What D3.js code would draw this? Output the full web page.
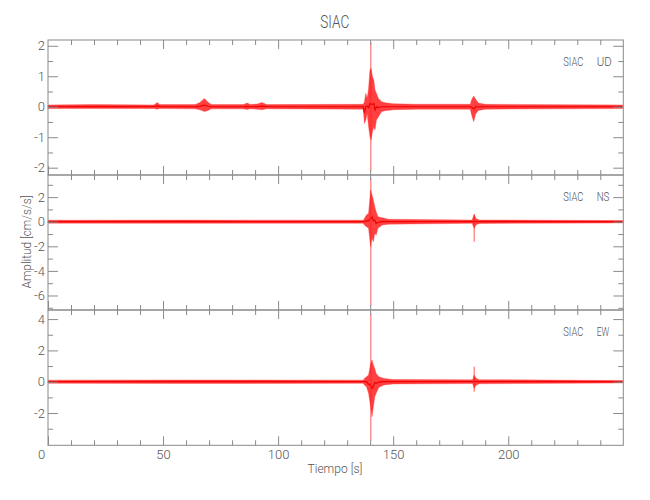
<!DOCTYPE html>
<html><head><meta charset="utf-8">
<script src="https://cdn.jsdelivr.net/npm/d3@7"></script>
<style>
body{margin:0;background:#fff;}
text{font-family:Roboto,"Liberation Sans",sans-serif;font-weight:300;fill:#555;}
</style></head>
<body><svg id="c" width="650" height="500"></svg>
<script>
// ---- data ----
const title = "SIAC";
const xLabel = "Tiempo [s]";
const yLabel = "Amplitud [cm/s/s]";
const xTicks = [0, 50, 100, 150, 200];
const xMinor = [10,20,30,40,60,70,80,90,110,120,130,140,160,170,180,190,210,220,230,240];
const xDomain = [0, 250];

const channels = ["UD", "NS", "EW"];
const yDomains = [[-2.24, 2.19], [-7.18, 3.80], [-4.06, 4.58]];
const yTicksMajor = [[-2, -1, 0, 1, 2], [-6, -4, -2, 0, 2], [-2, 0, 2, 4]];
const yTicksMinor = [[-1.5, -0.5, 0.5, 1.5], [-7, -5, -3, -1, 1, 3], [-3, -1, 1, 3]];

// envelope keyframes: time (s), upper and lower amplitude
const udTime  = [0, 20, 46, 47.5, 48.5, 64, 66, 68, 69.5, 71, 85, 86.5, 88, 91, 93, 95, 137, 137.5, 138.1, 138.7, 139.3, 139.9, 140.4, 141.0, 141.6, 142.1, 142.7, 143.6, 145.0, 146.5, 150, 160, 183.5, 184.2, 185, 185.8, 187, 190, 249.7];
const udUpper = [0.06, 0.07, 0.06, 0.14, 0.07, 0.07, 0.14, 0.27, 0.15, 0.07, 0.07, 0.12, 0.07, 0.09, 0.14, 0.07, 0.08, 0.16, 0.44, 0.27, 0.6, 1.2, 1.26, 0.98, 0.87, 0.55, 0.44, 0.27, 0.16, 0.13, 0.1, 0.08, 0.08, 0.25, 0.35, 0.25, 0.12, 0.08, 0.06];
const udLower = [-0.06, -0.06, -0.06, -0.08, -0.06, -0.07, -0.1, -0.16, -0.12, -0.07, -0.07, -0.09, -0.07, -0.08, -0.1, -0.07, -0.08, -0.55, -0.44, -0.22, -0.66, -0.98, -1.09, -0.82, -0.66, -0.76, -0.44, -0.33, -0.16, -0.13, -0.1, -0.08, -0.08, -0.3, -0.49, -0.25, -0.12, -0.08, -0.06];

const nsTime  = [0, 60, 137, 137.5, 138.4, 139.3, 140.2, 140.8, 141.4, 142.0, 142.6, 143.4, 145.2, 148, 184.3, 185.2, 186, 187.5, 249.7];
const nsUpper = [0.12, 0.13, 0.12, 0.27, 0.54, 0.68, 2.58, 2.17, 1.76, 1.22, 0.81, 0.41, 0.33, 0.2, 0.13, 0.6, 0.25, 0.14, 0.1];
const nsLower = [-0.12, -0.13, -0.12, -0.27, -0.4, -0.54, -2.03, -1.35, -1.63, -0.95, -1.08, -0.54, -0.27, -0.2, -0.13, -0.54, -0.25, -0.14, -0.1];

const ewTime  = [0, 60, 137, 137.5, 138.4, 139.3, 140.2, 140.8, 141.4, 142.0, 142.6, 143.8, 146, 150, 184.5, 185.2, 186, 187.5, 249.7];
const ewUpper = [0.1, 0.11, 0.1, 0.21, 0.32, 0.43, 1.17, 1.39, 1.07, 0.85, 0.53, 0.32, 0.21, 0.14, 0.12, 0.43, 0.22, 0.13, 0.08];
const ewLower = [-0.1, -0.11, -0.1, -0.21, -0.32, -0.74, -1.6, -2.24, -1.6, -0.96, -0.74, -0.36, -0.21, -0.14, -0.12, -0.43, -0.22, -0.13, -0.08];

// single-sample spikes: time, max, min
const udSpikeTime = [140.3], udSpikeMax = [2.1],  udSpikeMin = [-2.1];
const nsSpikeTime = [140.3, 185.2], nsSpikeMax = [3.53, 0.6], nsSpikeMin = [-6.83, -1.63];
const ewSpikeTime = [140.3, 185.2], ewSpikeMax = [4.37, 0.96], ewSpikeMin = [-3.77, -0.64];

// ---- drawing ----
const svg = d3.select("#c");
const L = 48, R = 623.3;
const panelTops = [40, 175, 310], panelBots = [175, 310, 445.3];
const x = d3.scaleLinear().domain(xDomain).range([L, R]);
const axisColor = "#8a8a8a";

const env = [
  {t: udTime, up: udUpper, lo: udLower, st: udSpikeTime, smax: udSpikeMax, smin: udSpikeMin},
  {t: nsTime, up: nsUpper, lo: nsLower, st: nsSpikeTime, smax: nsSpikeMax, smin: nsSpikeMin},
  {t: ewTime, up: ewUpper, lo: ewLower, st: ewSpikeTime, smax: ewSpikeMax, smin: ewSpikeMin}
];

function styleAxis(g){
  g.select(".domain").remove();
  g.selectAll("line").attr("stroke", axisColor).attr("stroke-width", 1);
  g.selectAll("text").attr("fill", "#555").style("font-size", "13px");
}

function label(txt, cx, cy, size, len, anchor, rot){
  return svg.append("text")
    .attr("transform", `translate(${cx},${cy})` + (rot ? ` rotate(${rot})` : ""))
    .attr("text-anchor", anchor).style("font-size", size + "px")
    .attr("textLength", len).attr("lengthAdjust", "spacingAndGlyphs").text(txt);
}

channels.forEach((ch, i) => {
  const y = d3.scaleLinear().domain(yDomains[i]).range([panelBots[i], panelTops[i]]);
  const e = env[i];
  const pts = e.t.map((t, k) => ({t, up: e.up[k], lo: e.lo[k]}));
  const g = svg.append("g");

  const area = d3.area().x(d => x(d.t)).y0(d => y(d.lo)).y1(d => y(d.up));
  g.append("path").datum(pts).attr("d", area)
    .attr("fill", "#ff0000").attr("fill-opacity", 0.75)
    .attr("stroke", "#ff3030").attr("stroke-width", 0.7).attr("stroke-opacity", 0.5);
  const mid = d3.line().x(d => x(d.t)).y(d => y((d.up + d.lo) / 2));
  g.append("path").datum(pts).attr("d", mid).attr("fill", "none")
    .attr("stroke", "#f00000").attr("stroke-width", 1.2);

  g.selectAll("line.spike").data(e.st.map((t, k) => ({t, mx: e.smax[k], mn: e.smin[k]})))
    .enter().append("line").attr("class", "spike")
    .attr("x1", d => x(d.t)).attr("x2", d => x(d.t))
    .attr("y1", d => y(d.mx)).attr("y2", d => y(d.mn))
    .attr("stroke", "#ff2020").attr("stroke-width", 1).attr("stroke-opacity", 0.75);

  // frame
  svg.append("rect").attr("x", L).attr("y", panelTops[i]).attr("width", R - L)
    .attr("height", panelBots[i] - panelTops[i]).attr("fill", "none").attr("stroke", axisColor);

  // y axes
  svg.append("g").attr("transform", `translate(${L},0)`)
    .call(d3.axisLeft(y).tickValues(yTicksMajor[i]).tickSize(-10).tickPadding(3)
      .tickFormat(v => String(v))).call(styleAxis);
  svg.append("g").attr("transform", `translate(${L},0)`)
    .call(d3.axisLeft(y).tickValues(yTicksMinor[i]).tickSize(-5).tickFormat("")).call(styleAxis);
  svg.append("g").attr("transform", `translate(${R},0)`)
    .call(d3.axisRight(y).tickValues(yTicksMajor[i]).tickSize(-10).tickFormat("")).call(styleAxis);
  svg.append("g").attr("transform", `translate(${R},0)`)
    .call(d3.axisRight(y).tickValues(yTicksMinor[i]).tickSize(-5).tickFormat("")).call(styleAxis);

  // x axes top and bottom of each panel
  svg.append("g").attr("transform", `translate(0,${panelTops[i]})`)
    .call(d3.axisTop(x).tickValues(xTicks.filter(v => v > 0)).tickSize(-9).tickFormat("")).call(styleAxis);
  svg.append("g").attr("transform", `translate(0,${panelTops[i]})`)
    .call(d3.axisTop(x).tickValues(xMinor).tickSize(-5).tickFormat("")).call(styleAxis);
  const bx = svg.append("g").attr("transform", `translate(0,${panelBots[i]})`)
    .call(d3.axisBottom(x).tickValues(xTicks).tickSize(-9).tickPadding(4)
      .tickFormat(i === 2 ? d3.format("d") : ""));
  bx.call(styleAxis);
  bx.selectAll(".tick").filter(d => d === 0).select("text").attr("dx", -7);
  svg.append("g").attr("transform", `translate(0,${panelBots[i]})`)
    .call(d3.axisBottom(x).tickValues(xMinor).tickSize(-5).tickFormat("")).call(styleAxis);

  // channel label
  const ly = panelTops[i] + 26;
  label(title, 563.3, ly, 13, 20, "start");
  label(ch, 596.7, ly, 13, ch === "UD" ? 15 : 12.6, "start");
});

label(title, 334.7, 28.3, 18, 29, "middle");
label(xLabel, 335, 473, 13, 55, "middle");
label(yLabel, 31, 242, 13, 93, "middle", -90);
</script></body></html>
